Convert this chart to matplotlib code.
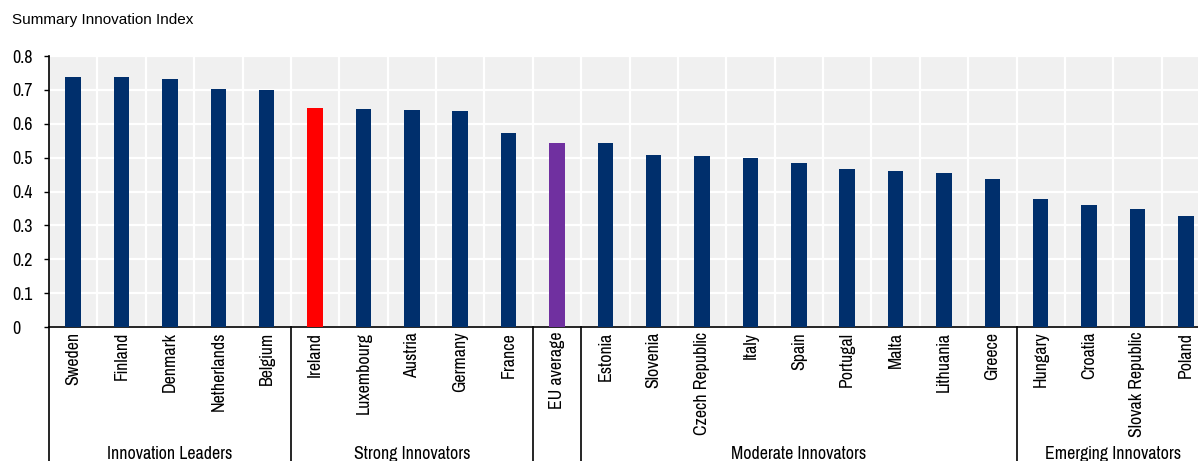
import matplotlib
matplotlib.use("Agg")
import matplotlib.pyplot as plt
import matplotlib.transforms as mtransforms
from matplotlib import font_manager
from matplotlib.lines import Line2D

countries = ["Sweden", "Finland", "Denmark", "Netherlands", "Belgium",
             "Ireland", "Luxembourg", "Austria", "Germany", "France",
             "EU average",
             "Estonia", "Slovenia", "Czech Republic", "Italy", "Spain", "Portugal",
             "Malta", "Lithuania", "Greece",
             "Hungary", "Croatia", "Slovak Republic", "Poland"]
values = [0.737, 0.737, 0.731, 0.703, 0.700,
          0.646, 0.644, 0.641, 0.638, 0.573,
          0.543,
          0.542, 0.508, 0.504, 0.498, 0.483, 0.466, 0.461, 0.455, 0.437,
          0.378, 0.360, 0.348, 0.328]
groups = ["Innovation Leaders", "Strong Innovators", "", "Moderate Innovators", "Emerging Innovators"]
group_sizes = [5, 5, 1, 9, 4]
highlight = {"Ireland": "#FF0000", "EU average": "#7030A0"}
base_color = "#002F6C"
yticks = [0, 0.1, 0.2, 0.3, 0.4, 0.5, 0.6, 0.7, 0.8]
ytick_labels = ["0", "0.1", "0.2", "0.3", "0.4", "0.5", "0.6", "0.7", "0.8"]
title = "Summary Innovation Index"

names = {f.name for f in font_manager.fontManager.ttflist}
narrow = "Liberation Sans"
for cand in ["Liberation Sans Narrow", "Pragati Narrow", "Archivo Narrow", "Roboto Condensed"]:
    if cand in names:
        narrow = cand
        break
regular = "Liberation Sans" if "Liberation Sans" in names else "DejaVu Sans"
plt.rcParams["font.family"] = [narrow, "DejaVu Sans"]

W, H = 1198, 461
fig = plt.figure(figsize=(W / 100, H / 100), dpi=100)
ax = fig.add_axes([49 / W, (H - 327) / H, (1210 - 49) / W, (327 - 56) / H])
ax.set_facecolor("#F0F0F0")

x = list(range(len(countries)))
colors = [highlight.get(c, base_color) for c in countries]
ax.bar(x, values, width=0.32, color=colors, zorder=3)

FS = 14
ax.set_xlim(-0.5, len(countries) - 0.5)
ax.set_ylim(0, 0.8)
ax.set_yticks(yticks)
ax.set_yticklabels(ytick_labels, fontsize=FS)
ax.set_xticks(x)
ax.set_xticklabels(countries, rotation=90, fontsize=FS, va="top")
ax.tick_params(axis="x", length=0, pad=3.5)
ax.tick_params(axis="y", length=3.6, width=1, color="black", pad=23)
for lbl in ax.get_yticklabels():
    lbl.set_horizontalalignment("left")

ax.set_xticks([i + 0.5 for i in range(len(countries) - 1)], minor=True)
ax.grid(True, which="minor", axis="x", color="white", linewidth=1.6, zorder=1)
ax.grid(True, which="major", axis="y", color="white", linewidth=1.6, zorder=1)
ax.tick_params(axis="x", which="minor", length=0)
ax.set_axisbelow(True)

for s in ["top", "right"]:
    ax.spines[s].set_visible(False)
ax.spines["left"].set_color("black")
ax.spines["bottom"].set_color("black")
ax.spines["left"].set_linewidth(1.2)
ax.spines["bottom"].set_linewidth(1.2)

trans = mtransforms.blended_transform_factory(ax.transData, fig.transFigure)
start = 0
bounds = [0]
for g, n in zip(groups, group_sizes):
    end = start + n
    bounds.append(end)
    if g:
        ax.text((start + end - 1) / 2, (H - 446) / H, g, transform=trans,
                ha="center", va="top", fontsize=FS, clip_on=False)
    start = end
for b in bounds:
    fig.add_artist(Line2D([b - 0.5, b - 0.5], [0, (H - 327) / H], transform=trans,
                          color="black", linewidth=1.2))

fig.text(12 / W, 1 - 13 / H, title, fontsize=11, family=[regular, "DejaVu Sans"],
         ha="left", va="top")

fig.savefig("out.png", dpi=100)
